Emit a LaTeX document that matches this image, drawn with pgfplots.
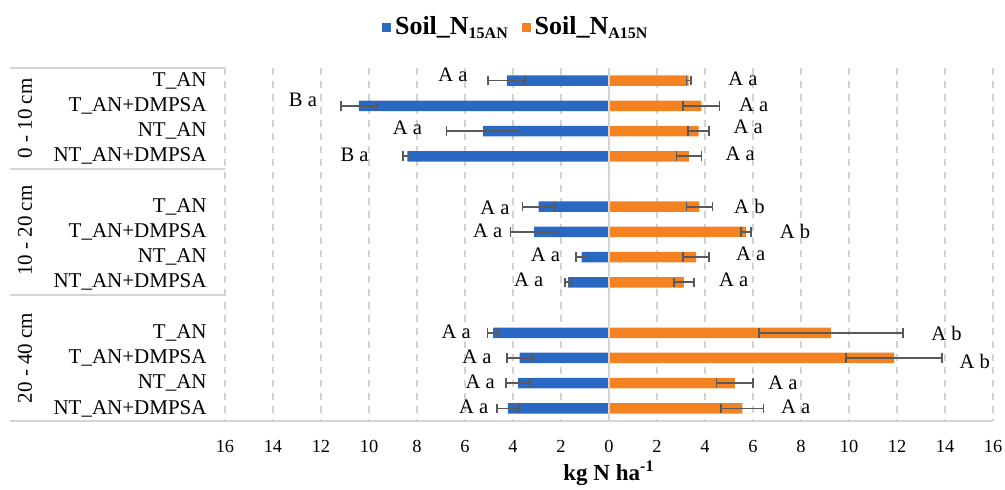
\documentclass[border=0pt]{standalone}
\usepackage{fontspec}
\setmainfont{Liberation Serif}
\usepackage{pgfplots}
\pgfplotsset{compat=1.18}
\definecolor{nblue}{RGB}{41,105,196}
\definecolor{norange}{RGB}{245,130,32}
\definecolor{errgray}{RGB}{89,89,89}
\definecolor{gridgray}{RGB}{210,210,210}
\definecolor{linegray}{RGB}{212,212,212}
\begin{document}
\begin{tikzpicture}
\useasboundingbox (-112.5pt,-34pt) rectangle (390pt,210.5pt);
\begin{axis}[
  at={(0,0)}, anchor=south west,
  scale only axis, width=384pt, height=176.5pt,
  xmin=-16, xmax=16, ymin=0, ymax=14, y dir=reverse,
  clip=false,
  xbar, bar width=5.25pt, bar shift=0pt,
  xtick={-16,-14,...,16},
  xticklabels={16,14,12,10,8,6,4,2,0,2,4,6,8,10,12,14,16},
  ytick={0.5,1.5,2.5,3.5,5.5,6.5,7.5,8.5,10.5,11.5,12.5,13.5},
  yticklabels={T\_AN,T\_AN+DMPSA,NT\_AN,NT\_AN+DMPSA,T\_AN,T\_AN+DMPSA,NT\_AN,NT\_AN+DMPSA,T\_AN,T\_AN+DMPSA,NT\_AN,NT\_AN+DMPSA},
  major tick length=0pt,
  axis line style={draw=none},
  xmajorgrids,
  major grid style={gridgray, line width=0.75pt, dash pattern=on 3.5pt off 3pt},
  xticklabel style={font=\fontsize{9.2}{10}\selectfont, anchor=base, yshift=-15.5pt, inner sep=0pt},
  yticklabel style={font=\fontsize{10.5}{12}\selectfont, anchor=east, inner sep=0pt, xshift=-9pt},
  xlabel={\textbf{kg N ha\textsuperscript{-1}}},
  xlabel style={at={(axis description cs:0.5,0)}, anchor=base, yshift=-29.5pt, font=\fontsize{11.5}{13}\selectfont, inner sep=0pt},
  legend columns=2,
  legend style={at={(0.38,1.115)}, anchor=center, draw=none, fill=none,
    font=\fontsize{13}{15}\selectfont,
    /tikz/every even column/.append style={column sep=5pt}},
  legend cell align=left,
]
\pgfplotsset{myerr/.style={error bars/.cd, x dir=both, x explicit,
  error mark=|,
  error bar style={draw=errgray, line width=0.85pt},
  error mark options={draw=errgray, mark size=2.4pt, line width=0.85pt}}}
\addplot[forget plot, fill=nblue, draw=none, myerr]
coordinates {
  (-4.26,0.5) +- (0.77,0)
  (-10.42,1.5) +- (0.76,0)
  (-5.25,2.5) +- (1.52,0)
  (-8.40,3.5) +- (0.17,0)
  (-2.93,5.5) +- (0.67,0)
  (-3.12,6.5) +- (0.98,0)
  (-1.14,7.5) +- (0.24,0)
  (-1.70,8.5) +- (0.12,0)
  (-4.83,10.5) +- (0.23,0)
  (-3.72,11.5) +- (0.54,0)
  (-3.79,12.5) +- (0.51,0)
  (-4.21,13.5) +- (0.47,0)
};
\addplot[forget plot, fill=norange, draw=none, myerr]
coordinates {
  (3.32,0.5) +- (0.09,0)
  (3.85,1.5) +- (0.76,0)
  (3.73,2.5) +- (0.43,0)
  (3.33,3.5) +- (0.52,0)
  (3.77,5.5) +- (0.54,0)
  (5.71,6.5) +- (0.20,0)
  (3.63,7.5) +- (0.55,0)
  (3.12,8.5) +- (0.41,0)
  (9.24,10.5) +- (3.00,0)
  (11.88,11.5) +- (2.00,0)
  (5.24,12.5) +- (0.76,0)
  (5.56,13.5) +- (0.88,0)
};
\addlegendimage{legend image code/.code={\fill[nblue] (0pt,-2pt) rectangle (4pt,2pt);}}
\addlegendentry{\textbf{Soil\_N}\raisebox{-2pt}{\fontsize{8}{9}\selectfont\bfseries 15AN}}
\addlegendimage{legend image code/.code={\fill[norange] (0pt,-2pt) rectangle (4pt,2pt);}}
\addlegendentry{\textbf{Soil\_N}\raisebox{-2pt}{\fontsize{8}{9}\selectfont\bfseries A15N}}
% zero line and category frame
\draw[linegray, line width=0.75pt] (axis cs:0,0) -- (axis cs:0,14);
\draw[linegray, line width=0.75pt] (axis cs:-24.96,0) -- (axis cs:-16,0);
\draw[linegray, line width=0.75pt] (axis cs:-24.96,4) -- (axis cs:-16,4);
\draw[linegray, line width=0.75pt] (axis cs:-24.96,9) -- (axis cs:-16,9);
\draw[linegray, line width=0.75pt] (axis cs:-24.96,14) -- (axis cs:16,14);
% group labels
\node[rotate=90, font=\fontsize{10.5}{12}\selectfont] at (axis cs:-24.33,2) {0 - 10 cm};
\node[rotate=90, font=\fontsize{10.5}{12}\selectfont] at (axis cs:-24.33,6.45) {10 - 20 cm};
\node[rotate=90, font=\fontsize{10.5}{12}\selectfont] at (axis cs:-24.33,11.5) {20 - 40 cm};
% letters
\tikzset{lab/.style={font=\fontsize{10.3}{12}\selectfont, inner sep=0pt}}
\node[lab] at (axis cs:-6.5,0.28) {A a};
\node[lab] at (axis cs:-12.75,1.27) {B a};
\node[lab] at (axis cs:-8.4,2.38) {A a};
\node[lab] at (axis cs:-10.6,3.45) {B a};
\node[lab] at (axis cs:5.58,0.44) {A a};
\node[lab] at (axis cs:6.03,1.47) {A a};
\node[lab] at (axis cs:5.8,2.34) {A a};
\node[lab] at (axis cs:5.47,3.41) {A a};
\node[lab] at (axis cs:-4.75,5.56) {A a};
\node[lab] at (axis cs:-5.05,6.47) {A a};
\node[lab] at (axis cs:-2.65,7.42) {A a};
\node[lab] at (axis cs:-3.35,8.4) {A a};
\node[lab] at (axis cs:5.85,5.5) {A b};
\node[lab] at (axis cs:7.75,6.47) {A b};
\node[lab] at (axis cs:5.9,7.35) {A a};
\node[lab] at (axis cs:5.2,8.4) {A a};
\node[lab] at (axis cs:-6.37,10.48) {A a};
\node[lab] at (axis cs:-5.5,11.47) {A a};
\node[lab] at (axis cs:-5.37,12.46) {A a};
\node[lab] at (axis cs:-5.64,13.45) {A a};
\node[lab] at (axis cs:14.06,10.52) {A b};
\node[lab] at (axis cs:15.24,11.65) {A b};
\node[lab] at (axis cs:7.25,12.5) {A a};
\node[lab] at (axis cs:7.78,13.45) {A a};
\end{axis}
\end{tikzpicture}
\end{document}
